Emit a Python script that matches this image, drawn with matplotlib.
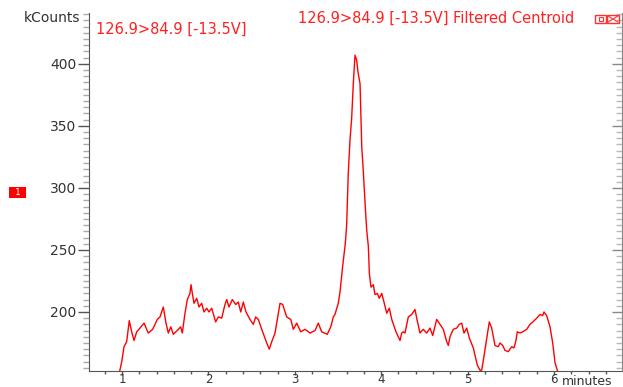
import numpy as np
import matplotlib
matplotlib.use("Agg")
import matplotlib.pyplot as plt
import matplotlib.ticker as ticker
from matplotlib.patches import Rectangle

# trace: time (minutes) and intensity (kCounts)
minutes = [0.96, 0.997, 1.023, 1.054, 1.084, 1.112, 1.139, 1.170, 1.208, 1.255,
           1.304, 1.355, 1.409, 1.440, 1.478, 1.509, 1.536, 1.564, 1.594, 1.652,
           1.679, 1.698, 1.729, 1.756, 1.787, 1.799, 1.814, 1.833, 1.865, 1.891,
           1.922, 1.949, 1.980, 2.007, 2.038, 2.084, 2.115, 2.154, 2.192, 2.212,
           2.238, 2.277, 2.316, 2.346, 2.374, 2.404, 2.435, 2.481, 2.520, 2.547,
           2.578, 2.617, 2.675, 2.705, 2.733, 2.771, 2.829, 2.860, 2.906, 2.953,
           2.983, 3.022, 3.068, 3.118, 3.176, 3.234, 3.272, 3.311, 3.376, 3.416,
           3.446, 3.465, 3.503, 3.523, 3.554, 3.581, 3.589, 3.600, 3.609, 3.619,
           3.639, 3.658, 3.677, 3.697, 3.716, 3.730, 3.755, 3.763, 3.775, 3.794,
           3.813, 3.832, 3.851, 3.863, 3.882, 3.909, 3.928, 3.955, 3.978, 4.006,
           4.032, 4.064, 4.094, 4.122, 4.171, 4.218, 4.237, 4.256, 4.275, 4.314,
           4.353, 4.391, 4.411, 4.449, 4.487, 4.527, 4.565, 4.596, 4.642, 4.681,
           4.719, 4.758, 4.777, 4.796, 4.834, 4.874, 4.904, 4.932, 4.958, 4.990,
           5.020, 5.066, 5.086, 5.113, 5.144, 5.163, 5.182, 5.213, 5.251, 5.279,
           5.317, 5.355, 5.375, 5.406, 5.433, 5.471, 5.510, 5.537, 5.560, 5.575,
           5.606, 5.638, 5.684, 5.722, 5.756, 5.800, 5.838, 5.869, 5.884, 5.915,
           5.954, 5.985, 6.012, 6.038, 6.06]
kcounts = [148, 160, 172, 176, 193, 184, 177, 184, 187, 191,
           183, 186, 194, 196, 204, 191, 183, 188, 182, 186,
           188, 183, 199, 210, 215, 222, 215, 207, 211, 204,
           207, 200, 203, 200, 203, 192, 196, 195, 206, 210,
           204, 210, 206, 208, 200, 208, 200, 194, 190, 196,
           194, 186, 175, 170, 176, 183, 207, 206, 196, 194,
           186, 191, 184, 186, 183, 185, 191, 184, 182, 188,
           196, 198, 207, 216, 237, 253, 259, 270, 290, 312,
           339, 356, 384, 407, 403, 394, 384, 363, 333, 312,
           288, 266, 253, 231, 220, 222, 214, 215, 211, 215,
           208, 199, 203, 194, 184, 177, 183, 184, 183, 196,
           198, 202, 195, 183, 186, 183, 187, 181, 194, 190,
           186, 176, 173, 180, 186, 187, 190, 191, 183, 187,
           179, 171, 165, 157, 153, 153, 161, 175, 192, 187,
           173, 172, 175, 173, 169, 168, 172, 171, 177, 184,
           183, 184, 186, 190, 192, 195, 198, 197, 200, 197,
           188, 175, 159, 153, 148]

trace_label = "126.9>84.9 [-13.5V]"
header = "126.9>84.9 [-13.5V] Filtered Centroid"
y_major = [200, 250, 300, 350, 400]
x_major = [1, 2, 3, 4, 5, 6]

W, H = 623, 387
fig = plt.figure(figsize=(W / 100, H / 100), dpi=100)
fig.patch.set_facecolor("white")

ax = fig.add_axes([89 / W, 1 - 371 / H, (622 - 89) / W, (371 - 13) / H])
ax.plot(minutes, kcounts, color="#ff0000", lw=1.0)
ax.set_xlim(0.618, 6.787)
ax.set_ylim(152.4, 441)

ax.set_yticks(y_major)
ax.yaxis.set_minor_locator(ticker.MultipleLocator(5))
ax.set_xticks(x_major)
ax.xaxis.set_minor_locator(ticker.MultipleLocator(0.2))

axis_col = "#555555"
for s in ["top", "right"]:
    ax.spines[s].set_visible(False)
ax.spines["left"].set_color(axis_col)
ax.spines["bottom"].set_color(axis_col)

ax.tick_params(axis="y", which="major", direction="out", length=8, width=1,
               color=axis_col, labelsize=10, labelcolor="#333333", pad=1)
ax.tick_params(axis="y", which="minor", direction="out", length=4, width=1,
               color="#aaaaaa")
ax.tick_params(axis="x", which="major", direction="out", length=3, width=1,
               color=axis_col, labelsize=8.5, labelcolor="#333333", pad=-1.5)
ax.tick_params(axis="x", which="minor", direction="out", length=2.5, width=1,
               color=axis_col)

# mirrored scale on the right edge, ticks pointing inwards
rax = ax.twinx()
rax.set_ylim(ax.get_ylim())
rax.set_yticks(y_major)
rax.yaxis.set_minor_locator(ticker.MultipleLocator(5))
for s in ["top", "left", "bottom"]:
    rax.spines[s].set_visible(False)
rax.spines["right"].set_color("#888888")
rax.tick_params(axis="y", which="major", direction="in", length=7, width=1,
                color="#888888", labelright=False)
rax.tick_params(axis="y", which="minor", direction="in", length=4, width=1,
                color="#bbbbbb")

fig.text(80 / W, 1 - 18 / H, "kCounts", ha="right", va="center",
         fontsize=10, color="#333333")
fig.text(96 / W, 1 - 29 / H, trace_label, ha="left", va="center",
         fontsize=10.5, color="#ff2020")
fig.text(298 / W, 1 - 18 / H, header, ha="left", va="center",
         fontsize=10.5, color="#ff2020")
fig.text(562 / W, 1 - 375 / H, "minutes", ha="left", va="top",
         fontsize=9, color="#333333")

# little window buttons in the corner
fig.patches.append(Rectangle((595 / W, 1 - 23 / H), 11 / W, 8 / H, fill=False,
                             ec="#ff3030", lw=1, transform=fig.transFigure))
fig.patches.append(Rectangle((598.5 / W, 1 - 20.5 / H), 4 / W, 3 / H, fill=False,
                             ec="#ff3030", lw=0.8, transform=fig.transFigure))
fig.patches.append(Rectangle((607 / W, 1 - 23 / H), 12 / W, 8 / H, fill=False,
                             ec="#ff3030", lw=1, transform=fig.transFigure))
fig.add_artist(plt.Line2D([608 / W, 618 / W], [1 - 22 / H, 1 - 16 / H],
                          color="#ff3030", lw=0.8))
fig.add_artist(plt.Line2D([608 / W, 618 / W], [1 - 16 / H, 1 - 22 / H],
                          color="#ff3030", lw=0.8))

# red trace marker on the left
fig.patches.append(Rectangle((9 / W, 1 - 198 / H), 17 / W, 11 / H, fc="#ff0000",
                             ec="none", transform=fig.transFigure))
fig.text(17.5 / W, 1 - 192.5 / H, "1", ha="center", va="center",
         fontsize=6.5, color="white")

fig.savefig("out.png", dpi=100, facecolor="white")
